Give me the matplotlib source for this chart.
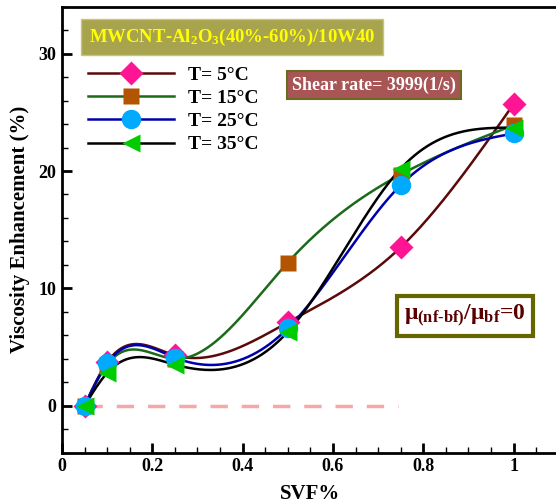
import numpy as np
import matplotlib
matplotlib.use("Agg")
import matplotlib.pyplot as plt
from matplotlib.lines import Line2D

plt.rcParams['font.family'] = ['Liberation Serif', 'DejaVu Serif']
plt.rcParams['mathtext.fontset'] = 'custom'
plt.rcParams['mathtext.rm'] = 'Liberation Serif:bold'
plt.rcParams['mathtext.it'] = 'Liberation Serif:bold'
plt.rcParams['mathtext.bf'] = 'Liberation Serif:bold'

svf = [0.05, 0.1, 0.25, 0.5, 0.75, 1.0]
t5 = [0.0, 3.7, 4.3, 7.1, 13.5, 25.7]
t15 = [0.0, 3.5, 4.0, 12.2, 19.7, 23.9]
t25 = [0.0, 3.6, 4.1, 6.6, 18.8, 23.2]
t35 = [0.0, 2.8, 3.5, 6.3, 20.2, 23.7]
labels = ["T= 5°C", "T= 15°C", "T= 25°C", "T= 35°C"]


def natural_spline(x, y, xs):
    # plain natural cubic spline, no scipy here
    x = np.asarray(x, float)
    y = np.asarray(y, float)
    n = len(x)
    h = np.diff(x)
    A = np.zeros((n, n))
    b = np.zeros(n)
    A[0, 0] = 1
    A[-1, -1] = 1
    for i in range(1, n - 1):
        A[i, i - 1] = h[i - 1]
        A[i, i] = 2 * (h[i - 1] + h[i])
        A[i, i + 1] = h[i]
        b[i] = 3 * ((y[i + 1] - y[i]) / h[i] - (y[i] - y[i - 1]) / h[i - 1])
    c = np.linalg.solve(A, b)
    out = np.empty_like(xs)
    for k, xv in enumerate(xs):
        i = min(np.searchsorted(x, xv) - 1, n - 2)
        i = max(i, 0)
        dx = xv - x[i]
        bi = (y[i + 1] - y[i]) / h[i] - h[i] * (2 * c[i] + c[i + 1]) / 3
        di = (c[i + 1] - c[i]) / (3 * h[i])
        out[k] = y[i] + bi * dx + c[i] * dx ** 2 + di * dx ** 3
    return out


fig = plt.figure(figsize=(5.56, 5.03), dpi=100)
ax = fig.add_axes([0.1115, 0.100, 0.8935, 0.8867])

series = [
    (t5, '#5a0a0a', 'D', '#ff1493', 12),
    (t15, '#1a6a1a', 's', '#b35500', 12),
    (t25, '#0000aa', 'o', '#00aaff', 14),
    (t35, 'black', '<', '#00cc00', 13),
]

ax.plot([0.05, 0.745], [0, 0], color='#f4a8a8', lw=2.5, dashes=(5, 4), zorder=1)

xs = np.linspace(svf[0], svf[-1], 400)
for vals, lc, m, mc, ms in series:
    ax.plot(xs, natural_spline(svf, vals, xs), color=lc, lw=1.8, zorder=2)
for vals, lc, m, mc, ms in series:
    ax.plot(svf, vals, ls='none', marker=m, color=mc, ms=ms, mec='none', zorder=3)

handles = [Line2D([0], [0], color=lc, lw=1.8, marker=m, markerfacecolor=mc, mec='none', ms=ms)
           for vals, lc, m, mc, ms in series]
ax.legend(handles, labels, loc='upper left', bbox_to_anchor=(0.018, 0.905), frameon=False,
          handlelength=4.4, labelspacing=0.28, handletextpad=0.7,
          prop={'weight': 'bold', 'size': 14})

ax.set_xlim(0, 1.1)
ax.set_ylim(-4, 34)
ax.set_xticks([0, 0.2, 0.4, 0.6, 0.8, 1.0])
ax.set_xticklabels(['0', '0.2', '0.4', '0.6', '0.8', '1'])
ax.set_xticks(np.arange(0.05, 1.1, 0.05), minor=True)
ax.set_yticks([0, 10, 20, 30])
ax.set_yticks(np.arange(-4, 34.1, 2), minor=True)
ax.tick_params(which='major', direction='in', length=7, width=2, labelsize=13, pad=4)
ax.tick_params(which='minor', direction='in', length=4, width=1)
for lab in ax.get_xticklabels() + ax.get_yticklabels():
    lab.set_fontweight('bold')
ax.spines['right'].set_visible(False)
for s in ['left', 'bottom', 'top']:
    ax.spines[s].set_linewidth(2)

ax.set_xlabel('SVF%', fontsize=15, fontweight='bold', labelpad=6)
ax.set_ylabel('Viscosity Enhancement (%)', fontsize=15, fontweight='bold', labelpad=6)

fig.text(232 / 556, 1 - 37 / 503, r'MWCNT-Al$_2$O$_3$(40%-60%)/10W40', color='#ffff00',
         fontsize=13.5, fontweight='bold', ha='center', va='center',
         bbox=dict(boxstyle='square,pad=0.4', fc='#a8a44e', ec='#c8c480', lw=1))
fig.text(374 / 556, 1 - 85 / 503, 'Shear rate= 3999(1/s)', color='white',
         fontsize=13, fontweight='bold', ha='center', va='center',
         bbox=dict(boxstyle='square,pad=0.3', fc='#a85555', ec='#6b6b1f', lw=1.5))
fig.text(465 / 556, 1 - 316 / 503, r'$\mu_{(nf\text{-}bf)}/\mu_{bf}$=0', color='#5a0000',
         fontsize=17, fontweight='bold', ha='center', va='center',
         bbox=dict(boxstyle='square,pad=0.3', fc='white', ec='#666600', lw=3))

fig.savefig('out.png', dpi=100)
